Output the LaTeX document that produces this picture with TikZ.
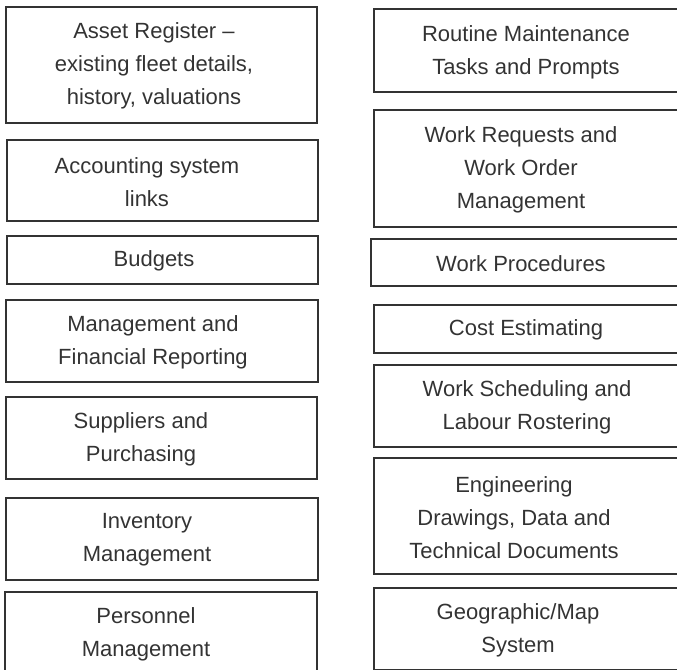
\documentclass[tikz,border=0pt]{standalone}
\usepackage{fontspec}
\setmainfont{Liberation Sans}
\tikzset{
  modbox/.style={draw=black!80, line width=1.5pt},
  modtext/.style={text=black!80, align=center, inner sep=0pt,
    font=\fontsize{16.5}{24.75}\selectfont}
}
\begin{document}
\begin{tikzpicture}[x=0.75pt, y=-0.75pt]
  \useasboundingbox (0,0) rectangle (677,669);
  \clip (0,0) rectangle (677,669);
  % left column
  \draw[modbox] (6,7) rectangle (317,123);
  \node[modtext] (asset) at (154,66) {Asset Register --\\existing fleet details,\\history, valuations};
  \draw[modbox] (7,140) rectangle (318,221);
  \node[modtext] (acct) at (147,182) {Accounting system\\links};
  \draw[modbox] (7,236) rectangle (318,284);
  \node[modtext] (budget) at (154,261) {Budgets};
  \draw[modbox] (6,300) rectangle (318,382);
  \node[modtext] (mgmt) at (153,342) {Management and\\Financial Reporting};
  \draw[modbox] (6,397) rectangle (317,479);
  \node[modtext] (suppl) at (141,439) {Suppliers and\\Purchasing};
  \draw[modbox] (6,498) rectangle (318,580);
  \node[modtext] (invent) at (147,540) {Inventory\\Management};
  \draw[modbox] (5,592) rectangle (317,674);
  \node[modtext] (person) at (146,634) {Personnel\\Management};
  % right column
  \draw[modbox] (374,9) rectangle (690,92);
  \node[modtext] (routine) at (526,52) {Routine Maintenance\\Tasks and Prompts};
  \draw[modbox] (374,110) rectangle (690,227);
  \node[modtext] (workreq) at (521,170) {Work Requests and\\Work Order\\Management};
  \draw[modbox] (371,239) rectangle (690,286);
  \node[modtext] (proc) at (521,264) {Work Procedures};
  \draw[modbox] (374,305) rectangle (690,353);
  \node[modtext] (cost) at (526,330) {Cost Estimating};
  \draw[modbox] (374,365) rectangle (690,447);
  \node[modtext] (sched) at (527,407) {Work Scheduling and\\Labour Rostering};
  \draw[modbox] (374,458) rectangle (690,574);
  \node[modtext] (eng) at (514,518) {Engineering\\Drawings, Data and\\Technical Documents};
  \draw[modbox] (374,588) rectangle (690,670);
  \node[modtext] (geo) at (518,630) {Geographic/Map\\System};
\end{tikzpicture}
\end{document}
